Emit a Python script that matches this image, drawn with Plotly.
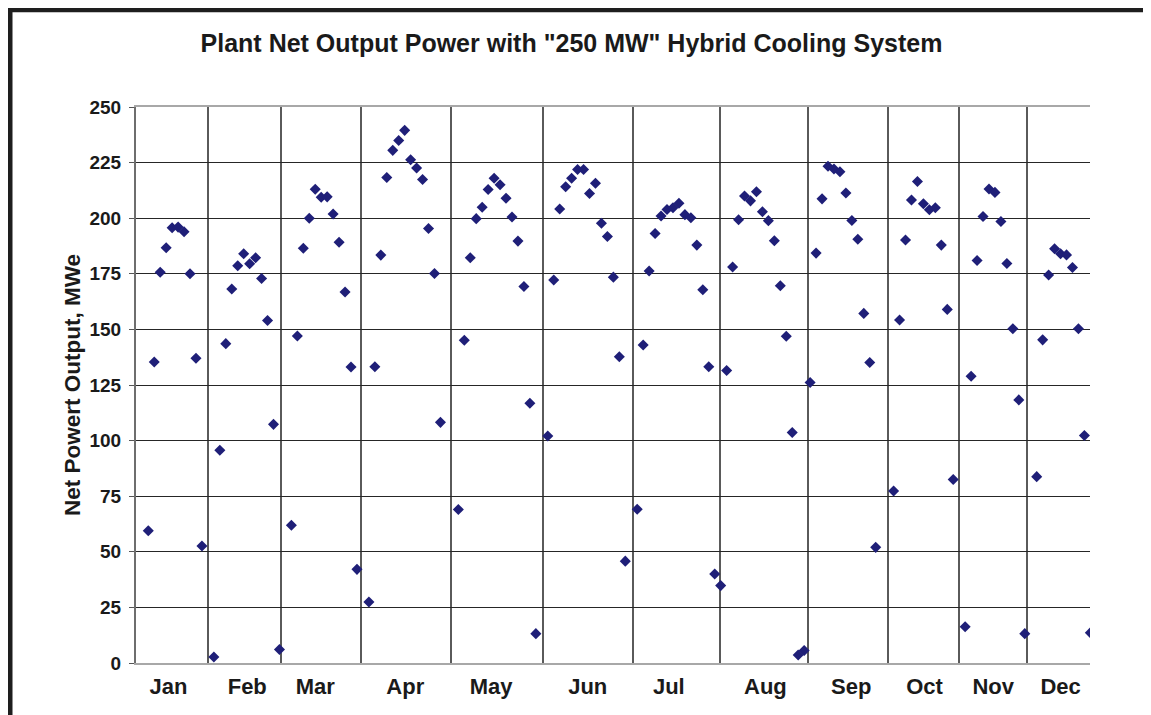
import plotly.graph_objects as go

# hourly net output (MWe) for a representative day of each month
months = ["Jan", "Feb", "Mar", "Apr", "May", "Jun", "Jul", "Aug", "Sep", "Oct", "Nov", "Dec"]
jan = [59.5, 135.3, 175.7, 186.7, 195.7, 196.0, 193.9, 175.0, 137.0, 52.6]
feb = [2.7, 95.7, 143.6, 168.2, 178.6, 184.0, 179.5, 182.2, 172.9, 154.0, 107.3, 6.1]
mar = [61.9, 147.0, 186.5, 200.0, 213.0, 209.4, 209.6, 201.9, 189.2, 166.8, 133.1, 42.1]
apr = [27.4, 133.2, 183.4, 218.3, 230.5, 234.9, 239.5, 226.3, 222.6, 217.4, 195.4, 175.1, 108.2]
may = [69.0, 145.1, 182.2, 199.8, 204.9, 212.9, 218.0, 215.0, 209.0, 200.5, 189.7, 169.3, 116.8, 13.2]
jun = [102.1, 172.2, 204.1, 214.1, 218.0, 221.9, 221.9, 211.1, 215.7, 197.7, 191.8, 173.5, 137.7, 45.8]
jul = [69.1, 143.0, 176.3, 193.1, 201.0, 203.9, 204.7, 206.7, 201.6, 200.2, 187.9, 167.8, 133.2, 40.0, 34.8]
aug = [131.5, 178.1, 199.3, 210.0, 207.8, 211.9, 202.9, 198.9, 189.9, 169.6, 146.9, 103.6, 3.6, 5.6]
sep = [126.1, 184.3, 208.7, 223.4, 222.1, 220.9, 211.3, 199.0, 190.5, 157.2, 135.1, 52.0]
oct_ = [77.3, 154.2, 190.2, 208.2, 216.5, 206.5, 203.8, 204.7, 187.9, 159.0, 82.5]
nov = [16.3, 128.9, 181.0, 200.8, 213.1, 211.6, 198.5, 179.6, 150.3, 118.3, 13.2]
dec = [83.8, 145.3, 174.5, 186.3, 184.0, 183.5, 177.8, 150.3, 102.3, 13.6]

# first slot of each month on the hour-slot axis
month_start = [0, 11, 24, 37, 52, 67, 82, 97, 111, 125, 137, 149]
# month separator lines and label positions (slot units)
month_bounds = [9.95, 22.3, 35.75, 50.8, 66.2, 81.3, 95.9, 110.6, 124.1, 136.0, 147.3]
label_pos = [3.4, 16.6, 28.0, 43.1, 57.5, 73.7, 87.3, 103.5, 117.9, 130.2, 141.7, 153.0]

series = [jan, feb, mar, apr, may, jun, jul, aug, sep, oct_, nov, dec]
xs, ys = [], []
for start, vals in zip(month_start, series):
    xs += [start + i for i in range(len(vals))]
    ys += vals

font = "Liberation Sans, Arial, sans-serif"
ink = "#1a1a1a"

# page has an 8px body margin, so the figure is laid out 8px smaller
W, H = 1143, 707
L, T, PW, PH = 128, 99, 954, 556


def px(x):
    return (x - 8 - L) / PW


def py(y):
    return (T + PH - (y - 8)) / PH


fig = go.Figure()
fig.add_trace(go.Scatter(
    x=xs, y=ys, mode="markers",
    marker=dict(symbol="diamond", size=8.5, color="#1f1f78", line=dict(width=0)),
    showlegend=False, hoverinfo="y",
))

fig.update_layout(
    width=W, height=H,
    margin=dict(l=L, r=W - L - PW, t=T, b=H - T - PH),
    paper_bgcolor="white", plot_bgcolor="white",
    font=dict(family=font, color=ink),
    title=dict(text='Plant Net Output Power with "250 MW" Hybrid Cooling System',
               x=(571.5 - 8) / W, xanchor="center", y=1 - 35 / H, yanchor="middle",
               font=dict(size=25, family=font, weight="bold", color=ink)),
    xaxis=dict(
        range=[-2.06, 157.94], tickmode="array", tickvals=label_pos, ticktext=months,
        showgrid=False, zeroline=False, ticks="", ticklabelstandoff=3,
        tickfont=dict(size=22, family=font, weight="bold", color=ink),
        showline=True, linecolor="#a8a8a8", linewidth=2, mirror=True,
        minor=dict(tickmode="array", tickvals=month_bounds, showgrid=True,
                   gridcolor="#5a5a5a", gridwidth=1.5, ticks=""),
    ),
    yaxis=dict(
        range=[0, 250], tickmode="linear", tick0=0, dtick=25,
        showgrid=True, gridcolor="#262626", gridwidth=1, zeroline=False,
        ticks="outside", ticklen=5, tickcolor="#555555", ticklabelstandoff=4,
        tickfont=dict(size=19, family=font, weight="bold", color=ink),
        showline=True, linecolor="#6e6e6e", linewidth=2,
        title=dict(text="Net Powert Output, MWe", standoff=3,
                   font=dict(size=22.5, family=font, weight="bold", color=ink)),
    ),
)

# outer frame of the figure
fig.add_shape(type="line", xref="paper", yref="paper",
              x0=px(8), x1=px(1151), y0=py(9.8), y1=py(9.8),
              line=dict(color="#1e1e1e", width=5))
fig.add_shape(type="line", xref="paper", yref="paper",
              x0=px(10), x1=px(10), y0=py(7.5), y1=py(720),
              line=dict(color="#1e1e1e", width=5))
fig.add_shape(type="line", xref="paper", yref="paper",
              x0=px(1149.5), x1=px(1149.5), y0=py(12), y1=py(720),
              line=dict(color="#b0b0b0", width=1.5))

fig.write_html("out.html")
